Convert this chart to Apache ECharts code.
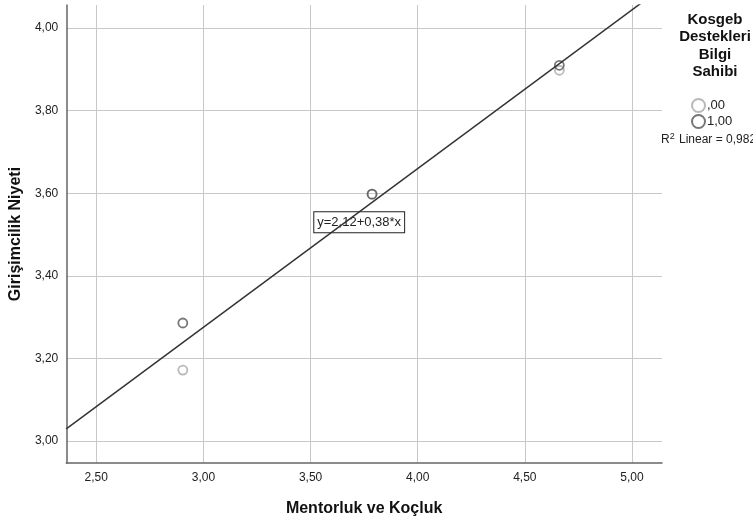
<!DOCTYPE html>
<html>
<head>
<meta charset="utf-8">
<script src="https://cdn.jsdelivr.net/npm/echarts@6/dist/echarts.min.js"></script>
<style>
  html, body { margin: 0; padding: 0; background: #fff; }
  #chart { width: 753px; height: 522px; }
</style>
</head>
<body>
<div id="chart"></div>
<script>
// mentorluk ve koçluk (x) / girişimcilik niyeti (y) per group
const groupNames = [',00', '1,00']
const xGroup0 = [2.904, 3.787, 4.661]
const yGroup0 = [3.172, 3.598, 3.898]
const xGroup1 = [2.904, 3.787, 4.661]
const yGroup1 = [3.286, 3.598, 3.910]
const rSquareText = '0,982'

const xMin = 2.36, xMax = 5.14
const yMin = 2.947, yMax = 4.056

const fmt = (v) => v.toFixed(2).replace('.', ',')

// linear fit at total
const allX = xGroup0.concat(xGroup1)
const allY = yGroup0.concat(yGroup1)
const mx = allX.reduce((a, b) => a + b, 0) / allX.length
const my = allY.reduce((a, b) => a + b, 0) / allY.length
let sxy = 0, sxx = 0
allX.forEach((x, i) => {
  sxy += (x - mx) * (allY[i] - my)
  sxx += (x - mx) * (x - mx)
})
const slope = sxy / sxx
const intercept = my - slope * mx
const fitLine = [xMin, xMax].map((x) => [x, intercept + slope * x])

const chart = echarts.init(document.getElementById('chart'))

const labelStyle = { color: '#222', fontSize: 12, fontFamily: 'Liberation Sans' }

const option = {
  animation: false,
  grid: { left: 64, right: 91, top: 5, bottom: 59 },
  xAxis: {
    type: 'value',
    min: xMin,
    max: xMax,
    splitNumber: 5,
    name: 'Mentorluk ve Koçluk',
    nameLocation: 'middle',
    nameGap: 38,
    nameTextStyle: { fontSize: 16, fontWeight: 'bold', color: '#111', fontFamily: 'Liberation Sans' },
    axisLine: { show: true, lineStyle: { color: '#666', width: 1.5 } },
    axisTick: { show: false },
    axisLabel: Object.assign({ formatter: fmt, margin: 9, showMinLabel: false, showMaxLabel: false }, labelStyle),
    splitLine: { show: true, showMinLine: false, showMaxLine: false, lineStyle: { color: '#c8c8c8', width: 1 } }
  },
  yAxis: {
    type: 'value',
    min: yMin,
    max: yMax,
    splitNumber: 5,
    name: 'Girişimcilik Niyeti',
    nameLocation: 'middle',
    nameGap: 42,
    nameRotate: 90,
    nameTextStyle: { fontSize: 16, fontWeight: 'bold', color: '#111', fontFamily: 'Liberation Sans' },
    axisLine: { show: true, lineStyle: { color: '#666', width: 1.5 } },
    axisTick: { show: false },
    axisLabel: Object.assign({ formatter: fmt, margin: 8, showMinLabel: false, showMaxLabel: false }, labelStyle),
    splitLine: { show: true, showMinLine: false, showMaxLine: false, lineStyle: { color: '#c8c8c8', width: 1 } }
  },
  legend: {
    orient: 'vertical',
    left: 686,
    top: 93,
    itemWidth: 13,
    itemHeight: 13,
    itemGap: 1,
    data: groupNames,
    textStyle: { fontSize: 13, color: '#222', fontFamily: 'Liberation Sans', lineHeight: 15, padding: [0, 0, 0, -3] }
  },
  graphic: [
    {
      type: 'text',
      x: 715,
      y: 11,
      style: {
        text: 'Kosgeb\nDestekleri\nBilgi\nSahibi',
        align: 'center',
        verticalAlign: 'top',
        fontSize: 15,
        fontWeight: 'bold',
        lineHeight: 17.5,
        fill: '#111',
        fontFamily: 'Liberation Sans'
      }
    },
    {
      type: 'text',
      x: 661,
      y: 132,
      style: {
        text: 'R{sup|2} Linear = ' + rSquareText,
        fontSize: 12,
        fill: '#222',
        fontFamily: 'Liberation Sans',
        rich: {
          sup: { fontSize: 9, verticalAlign: 'top', padding: [0, 1, 6, 0], fill: '#222' }
        }
      }
    }
  ],
  series: [
    {
      name: groupNames[0],
      type: 'scatter',
      symbol: 'circle',
      symbolSize: 9,
      itemStyle: { color: 'rgba(0,0,0,0)', borderColor: '#a8a8a8', borderWidth: 1.8 },
      data: xGroup0.map((x, i) => [x, yGroup0[i]]),
      z: 3
    },
    {
      name: groupNames[1],
      type: 'scatter',
      symbol: 'circle',
      symbolSize: 9,
      itemStyle: { color: 'rgba(0,0,0,0)', borderColor: '#555', borderWidth: 1.8 },
      data: xGroup1.map((x, i) => [x, yGroup1[i]]),
      z: 4
    },
    {
      name: 'fit',
      type: 'line',
      data: fitLine,
      symbol: 'none',
      clip: true,
      lineStyle: { color: '#333', width: 1.5 },
      z: 5,
      markPoint: {
        symbol: 'rect',
        symbolSize: 0,
        data: [{ coord: [3.727, 3.530] }],
        label: {
          show: true,
          position: 'inside',
          formatter: 'y=' + fmt(intercept) + '+' + fmt(slope) + '*x',
          backgroundColor: '#fff',
          borderColor: '#222',
          borderWidth: 1,
          padding: [4, 3, 3, 3],
          color: '#222',
          fontSize: 13,
          fontFamily: 'Liberation Sans'
        }
      }
    }
  ]
}

chart.setOption(option)
</script>
</body>
</html>
